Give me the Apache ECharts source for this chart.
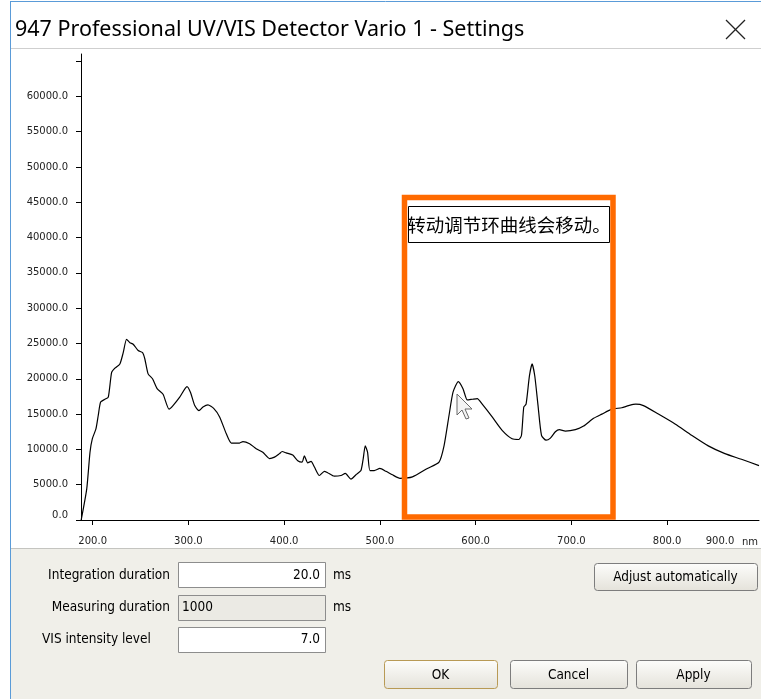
<!DOCTYPE html>
<html>
<head>
<meta charset="utf-8">
<title>947 Professional UV/VIS Detector Vario 1 - Settings</title>
<script src="https://cdn.jsdelivr.net/npm/echarts@6/dist/echarts.min.js"></script>
<style>
  html, body { margin: 0; padding: 0; background: #fff; }
  #chart { width: 761px; height: 699px; }
</style>
</head>
<body>
<div id="chart"></div>
<script>
// 光谱曲线（从截图读出）：波长 nm / 强度
const wavelengths = [
  188, 193.8, 197.2, 199.6, 203.4, 205.8, 208.3, 212.8, 216.3, 219.8,
  223.2, 228.4, 231.9, 235.4, 238.9, 242.3, 247.5, 252.1, 254.5, 257.9,
  262.5, 267.3, 273.5, 279.8, 283.9, 290.9, 298.5, 302.1, 306.6, 311,
  315.2, 320.4, 326.4, 332.6, 339.6, 344.8, 353.4, 356.9, 363.9, 370.8,
  377.7, 384.7, 389.9, 395.1, 397.9, 402.1, 409, 414.2, 418.8, 421.1,
  424.6, 428.1, 431.6, 436.8, 442, 445.4, 452.4, 459.4, 463.9, 469.8,
  475, 480.2, 482.6, 484.7, 487.1, 489.6, 494.1, 500, 506.3, 513.1,
  521, 534, 549.6, 561.8, 567, 572.2, 576.4, 581.9, 586.8, 591.3,
  596.5, 601.7, 606.9, 617.3, 627.7, 638.1, 645.1, 647.9, 650.3, 652.7,
  656.2, 659, 661.8, 665.2, 668.8, 673.6, 678.1, 683.3, 687.5, 693.7,
  704.2, 712.8, 723.2, 731.9, 742.3, 752.7, 759.7, 767.3, 775.3, 790.9,
  808.3, 825.6, 843, 860.4, 877.7, 896
]
const intensities = [
  0, 4400, 9600, 11500, 12900, 14800, 16700, 17100, 17400, 20900,
  21500, 22100, 23700, 25600, 25100, 24900, 24000, 23700, 22800, 20700,
  20000, 18600, 17800, 15700, 16200, 17400, 18900, 18100, 16200, 15500,
  16000, 16300, 15800, 14600, 12200, 10900, 10900, 11100, 10800, 10100,
  9600, 8700, 8900, 9400, 9700, 9500, 9200, 8400, 8200, 9100,
  8100, 8300, 7500, 6300, 6900, 6700, 6200, 6300, 6600, 5800,
  6400, 7000, 8700, 10500, 9600, 7000, 7000, 7300, 6900, 6400,
  5900, 6100, 7300, 8200, 10500, 14800, 18100, 19600, 18600, 17000,
  17100, 17200, 16400, 14600, 12700, 11500, 11400, 12000, 16000, 16400,
  20400, 22100, 20400, 16200, 12000, 11300, 11600, 12500, 12800, 12600,
  12800, 13300, 14400, 15000, 15700, 15900, 16200, 16400, 16200, 15000,
  13600, 12000, 10500, 9400, 8600, 7700
]

// 坐标轴刻度
const xTickValues = [200, 300, 400, 500, 600, 700, 800]
const xLabelValues = [200, 300, 400, 500, 600, 700, 800, 896] // 896 = 轴末端，显示为挤进来的 "900.0"
const yTickValues = [0, 5000, 10000, 15000, 20000, 25000, 30000, 35000, 40000, 45000, 50000, 55000, 60000, 65000]
const yLabelValues = [0, 5000, 10000, 15000, 20000, 25000, 30000, 35000, 40000, 45000, 50000, 55000, 60000]

const AXIS_FONT = { fontFamily: 'DejaVu Sans', fontSize: 10, color: '#222' }
const UI_FONT = 'DejaVu Sans Condensed'

// 对话框里的小控件（用 graphic 画）
function label(text, x, y, align) {
  return {
    type: 'text', z: 20,
    style: { text, x, y, align: align || 'right', verticalAlign: 'middle', fontFamily: UI_FONT, fontSize: 13.5, fill: '#000' },
  }
}
function box(x, y, w, h, fill) {
  return {
    type: 'rect', z: 20,
    shape: { x: x + 0.5, y: y + 0.5, width: w, height: h },
    style: { fill: fill || '#fff', stroke: '#8d8d8d', lineWidth: 1 },
  }
}
function button(text, x, y, w, h, stroke) {
  return [
    {
      type: 'rect', z: 20,
      shape: { x: x + 0.5, y: y + 0.5, width: w, height: h, r: 3 },
      style: {
        fill: new echarts.graphic.LinearGradient(0, 0, 0, 1, [
          { offset: 0, color: '#fdfdfb' },
          { offset: 1, color: '#e4e2da' },
        ]),
        stroke: stroke || '#7d7d7d', lineWidth: 1,
      },
    },
    label(text, x + w / 2, y + h / 2 + 1, 'center'),
  ]
}

const graphics = [
  // 窗口背景、标题栏
  { type: 'rect', z: -10, shape: { x: 0, y: 0, width: 761, height: 699 }, style: { fill: '#fff' } },
  { type: 'rect', z: -9, shape: { x: 11, y: 549, width: 750, height: 150 }, style: { fill: '#f0efe9' } },
  { type: 'line', z: -8, shape: { x1: 11, y1: 548.5, x2: 761, y2: 548.5 }, style: { stroke: '#c4c4c0', lineWidth: 1 } },
  { type: 'line', z: -8, shape: { x1: 11, y1: 48.5, x2: 761, y2: 48.5 }, style: { stroke: '#cfcfcf', lineWidth: 1 } },
  { type: 'line', z: 30, shape: { x1: 10.5, y1: 1, x2: 10.5, y2: 699 }, style: { stroke: '#5a9bd8', lineWidth: 1 } },
  { type: 'line', z: 30, shape: { x1: 10, y1: 1.5, x2: 761, y2: 1.5 }, style: { stroke: '#5a9bd8', lineWidth: 1 } },
  {
    type: 'text', z: 20,
    style: { text: '947 Professional UV/VIS Detector Vario 1 - Settings', x: 15, y: 30, verticalAlign: 'middle', fontFamily: 'Noto Sans', fontSize: 21.5, fill: '#000' },
  },
  { type: 'line', z: 20, shape: { x1: 726, y1: 20, x2: 745, y2: 39 }, style: { stroke: '#222', lineWidth: 1.2 } },
  { type: 'line', z: 20, shape: { x1: 745, y1: 20, x2: 726, y2: 39 }, style: { stroke: '#222', lineWidth: 1.2 } },

  // 橙色标注框 + 说明文字
  {
    type: 'rect', z: 40,
    shape: { x: 404.5, y: 197.5, width: 208.5, height: 319.5 },
    style: { fill: null, stroke: '#ff6a00', lineWidth: 5.5 },
  },
  {
    type: 'rect', z: 41,
    shape: { x: 408.5, y: 206.5, width: 201, height: 36 },
    style: { fill: '#fff', stroke: '#000', lineWidth: 1 },
  },
  {
    type: 'text', z: 42,
    style: { text: '转动调节环曲线会移动。', x: 509, y: 225, align: 'center', verticalAlign: 'middle', fontFamily: 'Noto Sans CJK SC', fontSize: 18.5, fill: '#000' },
  },
  // 鼠标指针
  {
    type: 'polygon', z: 45, x: 457, y: 394,
    shape: { points: [[0, 0], [0, 21], [5, 16], [9, 25], [12, 24], [8, 15], [15, 15]] },
    style: { fill: '#f4f4f4', stroke: '#6a6a6a', lineWidth: 1 },
  },

  // 底部设置区
  label('Integration duration', 170, 575),
  box(178, 562, 147, 25),
  label('20.0', 320, 575),
  label('ms', 333, 575, 'left'),
  label('Measuring duration', 170, 607),
  box(178, 595, 147, 25, '#ebeae4'),
  label('1000', 182, 607, 'left'),
  label('ms', 333, 607, 'left'),
  label('VIS intensity level', 42, 639, 'left'),
  box(178, 627, 147, 25),
  label('7.0', 320, 639),
  ...button('Adjust automatically', 594, 563, 163, 27),
  ...button('OK', 384, 660, 113, 28, '#b89a55'),
  ...button('Cancel', 510, 660, 117, 28),
  ...button('Apply', 636, 660, 115, 28),
]

const chart = echarts.init(document.getElementById('chart'), null, { renderer: 'canvas' })
chart.setOption({
  animation: false,
  grid: { left: 81, top: 54, width: 680, height: 466 },
  xAxis: {
    type: 'value',
    min: 187.8,
    max: 896,
    splitLine: { show: false },
    axisLine: { show: true, onZero: false, lineStyle: { color: '#000', width: 1 } },
    axisTick: { show: true, length: 5, customValues: xTickValues, lineStyle: { color: '#000' } },
    axisLabel: {
      ...AXIS_FONT,
      margin: 16,
      customValues: xLabelValues,
      formatter: (v) => (v > 850 ? '{far|900.0}' : v.toFixed(1)),
      rich: { far: { ...AXIS_FONT, padding: [0, 78, 0, 0] } },
    },
    name: 'nm',
    nameLocation: 'end',
    nameGap: -1,
    nameTextStyle: { ...AXIS_FONT, align: 'right', verticalAlign: 'top', padding: [17, 0, 0, 0] },
  },
  yAxis: {
    type: 'value',
    min: 0,
    max: 66000,
    splitLine: { show: false },
    axisLine: { show: true, lineStyle: { color: '#000', width: 1 } },
    axisTick: { show: true, length: 5, customValues: yTickValues, lineStyle: { color: '#000' } },
    axisLabel: {
      ...AXIS_FONT,
      margin: 13,
      customValues: yLabelValues,
      formatter: (v) => (v === 0 ? '{zero|0.0}' : v.toFixed(1)),
      rich: { zero: { ...AXIS_FONT, padding: [0, 0, 10, 0] } },
    },
  },
  series: [
    {
      type: 'line',
      data: wavelengths.map((w, i) => [w, intensities[i]]),
      showSymbol: false,
      smooth: 0.2,
      lineStyle: { color: '#000', width: 1.2 },
      z: 5,
    },
  ],
  graphic: graphics,
})
</script>
</body>
</html>
